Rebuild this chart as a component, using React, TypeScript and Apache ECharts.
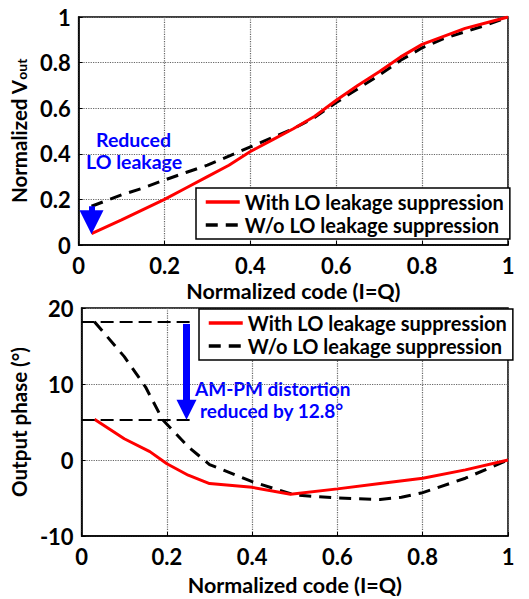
import React, { useEffect, useRef } from "react";
import * as echarts from "echarts";

// Top plot: normalized Vout vs normalized code
const topCodes = [0.03, 0.1, 0.15, 0.2, 0.25, 0.3, 0.35, 0.4, 0.45, 0.5, 0.55, 0.6, 0.65, 0.7, 0.75, 0.8, 0.85, 0.9, 0.95, 1];
const topWith = [0.05, 0.11, 0.155, 0.2, 0.25, 0.3, 0.35, 0.41, 0.46, 0.51, 0.565, 0.635, 0.7, 0.76, 0.825, 0.88, 0.915, 0.95, 0.975, 1];
const topWithout = [0.17, 0.22, 0.25, 0.285, 0.318, 0.35, 0.39, 0.43, 0.47, 0.51, 0.56, 0.625, 0.685, 0.745, 0.81, 0.865, 0.905, 0.935, 0.965, 1];

// Bottom plot: output phase (deg) vs normalized code
const botWithCodes = [0.03, 0.1, 0.16, 0.2, 0.25, 0.3, 0.4, 0.49, 0.6, 0.7, 0.8, 0.9, 1];
const botWith = [5.35, 2.8, 1.1, -0.5, -2.0, -3.1, -3.6, -4.5, -3.8, -3.1, -2.4, -1.3, 0];
const botWithoutCodes = [0.03, 0.1, 0.15, 0.19, 0.25, 0.3, 0.4, 0.5, 0.6, 0.7, 0.75, 0.8, 0.9, 1];
const botWithout = [18.2, 13.6, 9.6, 5.3, 1.75, -0.6, -2.85, -4.6, -5.0, -5.2, -4.9, -4.3, -2.4, 0];

const nameWith = "With LO leakage suppression";
const nameWithout = "W/o LO leakage suppression";

const xTicks = [0, 0.2, 0.4, 0.6, 0.8, 1];
const topYRange = [0, 1, 0.2];
const botYRange = [-10, 20, 10];

// annotation values
const phaseMaxWithout = 18.2;
const phaseMaxWith = 5.3;
const refLineEnd = 0.265;
const arrowCode = 0.246;
const leakCode = 0.03;

const FONT = "Lato, 'Open Sans', sans-serif";
const RED = "#ff0000";
const BLUE = "#0000ff";

function zip(xs: number[], ys: number[]) {
  return xs.map((x, i) => [x, ys[i]]);
}

export default function App() {
  const ref = useRef<HTMLDivElement>(null);
  useEffect(() => {
    if (!ref.current) return;
    const chart = echarts.init(ref.current, undefined, { renderer: "svg" });
    const axisLabel = { fontFamily: FONT, fontWeight: "bold", fontSize: 22, lineHeight: 20, color: "#000" };
    const nameStyle = { fontFamily: FONT, fontWeight: "bold", fontSize: 21.5, lineHeight: 20, color: "#000" };
    const splitLine = { show: true, lineStyle: { type: "dotted", color: "#666", width: 1.2 } };
    const axisLine = { show: true, onZero: false, lineStyle: { color: "#000", width: 1.5 } };
    const axisTick = { show: true, inside: true, length: 4, lineStyle: { color: "#000" } };
    const xAxisCommon = {
      type: "value",
      min: xTicks[0],
      max: xTicks[xTicks.length - 1],
      interval: xTicks[1] - xTicks[0],
      axisLabel: { ...axisLabel, margin: 10 },
      axisLine,
      axisTick,
      splitLine,
      nameLocation: "middle",
      nameTextStyle: nameStyle,
    };
    const legendCommon = {
      orient: "vertical",
      backgroundColor: "#fff",
      borderColor: "#000",
      borderWidth: 1.5,
      borderRadius: 0,
      padding: [4, 6, 4, 8],
      itemGap: 3,
      itemWidth: 34,
      itemHeight: 14,
      itemStyle: { opacity: 0 },
      lineStyle: { width: 3.5 },
      textStyle: { fontFamily: FONT, fontWeight: "bold", fontSize: 20, lineHeight: 20, color: "#000" },
      data: [nameWith, nameWithout],
      selectedMode: false,
    };
    const redLine = { color: RED, width: 3, type: "solid" };
    const blackLine = { color: "#000", width: 3, type: [12, 8] };

    chart.setOption({
      animation: false,
      backgroundColor: "#fff",
      grid: [
        { left: 78, top: 17, width: 430, height: 228, show: true, borderColor: "#000", borderWidth: 1.5, backgroundColor: "transparent" },
        { left: 78, top: 308, width: 430, height: 228, show: true, borderColor: "#000", borderWidth: 1.5, backgroundColor: "transparent" },
      ],
      xAxis: [
        { ...xAxisCommon, gridIndex: 0, name: "Normalized code (I=Q)", nameGap: 36 },
        { ...xAxisCommon, gridIndex: 1, name: "Normalized code (I=Q)", nameGap: 39 },
      ],
      yAxis: [
        {
          type: "value",
          gridIndex: 0,
          min: topYRange[0],
          max: topYRange[1],
          interval: topYRange[2],
          axisLabel: { ...axisLabel, margin: 8 },
          axisLine,
          axisTick,
          splitLine,
          name: "Normalized V{sub|out}",
          nameLocation: "middle",
          nameGap: 41,
          nameTextStyle: {
            ...nameStyle,
            fontSize: 20.5,
            rich: { sub: { fontFamily: FONT, fontWeight: "bold", fontSize: 14, color: "#000", verticalAlign: "bottom", padding: [8, 0, 0, 0] } },
          },
        },
        {
          type: "value",
          gridIndex: 1,
          min: botYRange[0],
          max: botYRange[1],
          interval: botYRange[2],
          axisLabel: { ...axisLabel, margin: 8 },
          axisLine,
          axisTick,
          splitLine,
          name: "Output phase (°)",
          nameLocation: "middle",
          nameGap: 33,
          nameTextStyle: { ...nameStyle, fontSize: 20.5 },
        },
      ],
      legend: [
        { ...legendCommon, left: 196, top: 188 },
        { ...legendCommon, left: 199, top: 309 },
      ],
      series: [
        {
          name: nameWithout,
          type: "line",
          xAxisIndex: 0,
          yAxisIndex: 0,
          data: zip(topCodes, topWithout),
          showSymbol: false,
          symbol: "none",
          lineStyle: blackLine,
          itemStyle: { color: "#000" },
          z: 3,
          markLine: {
            silent: true,
            symbol: ["none", "triangle"],
            symbolSize: 24,
            label: { show: false },
            lineStyle: { color: BLUE, width: 6, type: "solid" },
            data: [[{ coord: [leakCode, topWithout[0]] }, { coord: [leakCode, topWith[0] + 0.05] }]],
          },
        },
        {
          name: nameWith,
          type: "line",
          xAxisIndex: 0,
          yAxisIndex: 0,
          data: zip(topCodes, topWith),
          showSymbol: false,
          symbol: "none",
          lineStyle: redLine,
          itemStyle: { color: RED },
          z: 4,
        },
        {
          name: nameWithout,
          type: "line",
          xAxisIndex: 1,
          yAxisIndex: 1,
          data: zip(botWithoutCodes, botWithout),
          showSymbol: false,
          symbol: "none",
          lineStyle: blackLine,
          itemStyle: { color: "#000" },
          z: 3,
          markLine: {
            silent: true,
            symbol: ["none", "none"],
            label: { show: false },
            lineStyle: { color: "#000", width: 2, type: [13, 6] },
            data: [
              [{ coord: [0, phaseMaxWithout] }, { coord: [refLineEnd, phaseMaxWithout] }],
              [{ coord: [0, phaseMaxWith] }, { coord: [refLineEnd, phaseMaxWith] }],
            ],
          },
        },
        {
          name: nameWith,
          type: "line",
          xAxisIndex: 1,
          yAxisIndex: 1,
          data: zip(botWithCodes, botWith),
          showSymbol: false,
          symbol: "none",
          lineStyle: redLine,
          itemStyle: { color: RED },
          z: 4,
          markLine: {
            silent: true,
            symbol: ["none", "triangle"],
            symbolSize: 20,
            label: { show: false },
            lineStyle: { color: BLUE, width: 7, type: "solid" },
            data: [[{ coord: [arrowCode, phaseMaxWithout - 0.3] }, { coord: [arrowCode, phaseMaxWith + 1.3] }]],
          },
        },
      ],
      graphic: [
        { type: "text", left: 96, top: 129, style: { text: "Reduced", fill: BLUE, font: `bold 19.5px ${FONT}` } },
        { type: "text", left: 86, top: 151, style: { text: "LO leakage", fill: BLUE, font: `bold 19.5px ${FONT}` } },
        { type: "text", left: 195, top: 379, style: { text: "AM-PM distortion", fill: BLUE, font: `bold 19px ${FONT}` } },
        { type: "text", left: 200, top: 401, style: { text: "reduced by 12.8°", fill: BLUE, font: `bold 19px ${FONT}` } },
      ],
    });
    return () => chart.dispose();
  }, []);
  return <div ref={ref} style={{ position: "absolute", left: 0, top: 0, width: 529, height: 599 }} />;
}
